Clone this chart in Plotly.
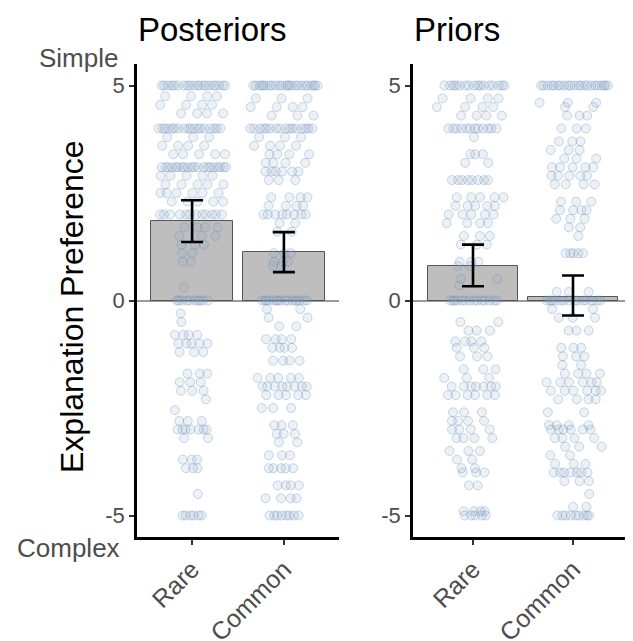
import plotly.graph_objects as go

# ---------------- data ----------------
categories = ["Rare", "Common"]
panels = ["Posteriors", "Priors"]

# summary bars: mean and 95% CI
post_means = [1.84, 1.12]
post_lo = [1.36, 0.66]
post_hi = [2.33, 1.59]
prior_means = [0.81, 0.09]
prior_lo = [0.33, -0.35]
prior_hi = [1.30, 0.58]

# individual responses: value levels and how many responses sit at each
post_rare_vals = [5, 4.75, 4.55, 4.35, 4.0, 3.8, 3.6, 3.4, 3.1, 2.9, 2.7, 2.5, 2.3, 2.0, 1.7, 1.5, 1.3, 1.1, 0.9, 0.3,
                  0, -0.3, -0.5, -0.8, -1.0, -1.2, -1.7, -1.9, -2.1, -2.3, -2.55, -2.8, -3.0, -3.2, -3.7, -3.9, -4.5, -5]
post_rare_counts = [20, 4, 4, 4, 18, 3, 4, 5, 20, 5, 5, 6, 5, 12, 4, 3, 3, 2, 2, 1,
                    10, 1, 1, 4, 5, 3, 3, 3, 3, 1, 1, 3, 7, 2, 3, 3, 1, 6]

post_common_vals = [5, 4.7, 4.5, 4.3, 4.0, 3.8, 3.6, 3.4, 3.2, 3.0, 2.8, 2.4, 2.2, 2.0, 1.8, 1.6, 1.1, 0.9, 0.8,
                    0, -0.2, -0.4, -0.6, -0.9, -1.1, -1.4, -1.8, -2.0, -2.2, -2.5, -2.9, -3.1, -3.3, -3.6, -3.9,
                    -4.3, -4.6, -5]
post_common_counts = [24, 3, 4, 3, 16, 3, 4, 4, 4, 6, 3, 4, 4, 8, 2, 2, 3, 3, 2,
                      16, 2, 2, 2, 4, 4, 4, 5, 8, 5, 3, 3, 3, 2, 3, 5,
                      4, 4, 8]

prior_rare_vals = [5, 4.7, 4.5, 4.3, 4.0, 3.8, 3.4, 3.2, 2.8, 2.4, 2.2, 2.0, 1.8, 1.5, 1.3, 0.9, 0.8, 0.5, 0.35,
                   0, -0.5, -0.7, -0.95, -1.1, -1.3, -1.6, -1.8, -2.0, -2.2, -2.6, -2.8, -3.0, -3.2, -3.5, -3.7,
                   -3.9, -4.0, -4.3, -4.9, -5]
prior_rare_counts = [16, 4, 4, 4, 12, 1, 3, 2, 8, 5, 5, 5, 4, 3, 3, 3, 2, 2, 1,
                     14, 2, 3, 4, 3, 3, 3, 3, 7, 6, 3, 4, 4, 4, 3, 2,
                     2, 3, 2, 4, 5]

prior_common_vals = [5, 4.6, 4.5, 4.3, 4.0, 3.7, 3.5, 3.3, 3.1, 2.9, 2.7, 2.3, 2.1, 1.9, 1.7, 1.5, 1.1, 0.2,
                     0, -0.2, -0.4, -0.7, -1.1, -1.3, -1.5, -1.7, -1.9, -2.1, -2.3, -2.6, -2.9, -3.0, -3.2, -3.4,
                     -3.6, -3.8, -4.0, -4.2, -4.5, -4.8, -5]
prior_common_counts = [22, 3, 2, 3, 3, 3, 3, 3, 5, 5, 4, 3, 4, 3, 2, 1, 5, 3,
                       14, 2, 3, 3, 3, 3, 2, 4, 6, 6, 4, 2, 4, 6, 4, 3,
                       2, 3, 7, 3, 1, 2, 9]

y_ticks = [-5, 0, 5]
y_ticktext = ["-5", "0", "5"]

# ---------------- styling ----------------
FONT = "Liberation Sans, Arial, sans-serif"
GREY_TXT = "#4D4D4D"
PT_FILL = "rgba(135,165,200,0.16)"
PT_LINE = "rgba(100,135,180,0.32)"

# the page body adds an 8px margin, so the figure is placed 8px in from the window corner
OFF = 8
W, H = 633 - OFF, 641 - OFF


def px_x(v):
    return (v - OFF) / W


def px_y(v):
    return 1 - (v - OFF) / H


def spread_points(center, vals, counts):
    """horizontal placement of the responses around a category (beeswarm-like jitter)"""
    xs, ys = [], []
    for lv, n in zip(vals, counts):
        nearby = sum(c for l, c in zip(vals, counts) if abs(l - lv) <= 0.5)
        spread = min(0.37, 0.012 * nearby + 0.03)
        for k in range(n):
            f = (k * 0.618034 + abs(lv) * 0.37 + 0.11) % 1.0
            xs.append(center + spread * (2 * f - 1))
            ys.append(lv)
    return xs, ys


fig = go.Figure()

groups = [
    ("x", "y", post_means, post_lo, post_hi,
     [(post_rare_vals, post_rare_counts), (post_common_vals, post_common_counts)]),
    ("x2", "y2", prior_means, prior_lo, prior_hi,
     [(prior_rare_vals, prior_rare_counts), (prior_common_vals, prior_common_counts)]),
]

for xa, ya, means, lo, hi, pts in groups:
    fig.add_trace(go.Bar(
        x=[1, 2], y=means, width=0.9, xaxis=xa, yaxis=ya,
        marker=dict(color="#BEBEBE", line=dict(color="#555555", width=1)),
        showlegend=False, hoverinfo="skip"))
    for i, (vals, counts) in enumerate(pts):
        px, py = spread_points(i + 1, vals, counts)
        fig.add_trace(go.Scatter(
            x=px, y=py, mode="markers", xaxis=xa, yaxis=ya,
            marker=dict(size=9, color=PT_FILL, line=dict(color=PT_LINE, width=1)),
            showlegend=False, hoverinfo="skip"))
    fig.add_trace(go.Scatter(
        x=[1, 2], y=means, mode="markers", xaxis=xa, yaxis=ya,
        marker=dict(size=1, color="rgba(0,0,0,0)"),
        error_y=dict(type="data", symmetric=False,
                     array=[h - m for h, m in zip(hi, means)],
                     arrayminus=[m - l for m, l in zip(means, lo)],
                     color="black", thickness=2.6, width=11),
        showlegend=False, hoverinfo="skip"))

ydom = [px_y(537), px_y(64)]

xaxis_common = dict(
    range=[0.4, 2.6], tickvals=[1, 2], ticktext=categories, tickangle=-45,
    showline=True, linecolor="black", linewidth=2.6, ticks="outside", ticklen=5,
    tickwidth=2, tickcolor="#333333", showgrid=False, zeroline=False, automargin=False,
    tickfont=dict(family=FONT, size=25, color=GREY_TXT), fixedrange=True)
yaxis_common = dict(
    range=[-5.5, 5.5], tickvals=y_ticks, ticktext=y_ticktext, domain=ydom,
    showline=True, linecolor="black", linewidth=2.6, ticks="outside", ticklen=5,
    tickwidth=2, tickcolor="#333333", showgrid=False, automargin=False,
    zeroline=True, zerolinecolor="#9A9A9A", zerolinewidth=1.8,
    tickfont=dict(family=FONT, size=22, color=GREY_TXT), fixedrange=True)

fig.update_layout(
    width=W, height=H,
    margin=dict(l=0, r=0, t=0, b=0, autoexpand=False),
    paper_bgcolor="white", plot_bgcolor="white",
    bargap=0,
    xaxis=dict(domain=[px_x(137), px_x(339)], anchor="y", **xaxis_common),
    yaxis=dict(anchor="x", **yaxis_common),
    xaxis2=dict(domain=[px_x(413), 1.0], anchor="y2", **xaxis_common),
    yaxis2=dict(anchor="x2", **yaxis_common),
)

annots = [
    dict(text=panels[0], x=px_x(136), y=px_y(30), xanchor="left", yanchor="middle",
         font=dict(family=FONT, size=33, color="black")),
    dict(text=panels[1], x=px_x(412), y=px_y(30), xanchor="left", yanchor="middle",
         font=dict(family=FONT, size=33, color="black")),
    dict(text="Simple", x=px_x(120), y=px_y(58), xanchor="right", yanchor="middle",
         font=dict(family=FONT, size=26, color=GREY_TXT)),
    dict(text="Complex", x=px_x(122), y=px_y(548), xanchor="right", yanchor="middle",
         font=dict(family=FONT, size=26, color=GREY_TXT)),
    dict(text="Explanation Preference", x=px_x(72), y=px_y(307), textangle=-90,
         xanchor="center", yanchor="middle",
         font=dict(family=FONT, size=32, color="black")),
]
for a in annots:
    a.update(xref="paper", yref="paper", showarrow=False)
fig.update_layout(annotations=annots)

fig.write_html("out.html")
